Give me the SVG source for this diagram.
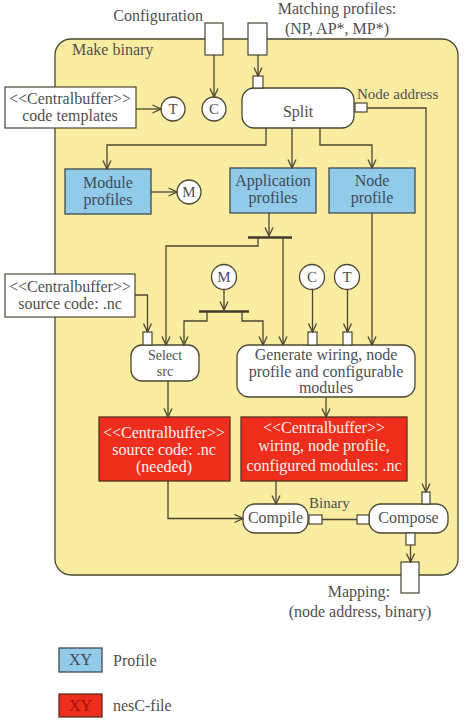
<svg xmlns="http://www.w3.org/2000/svg" width="465" height="721" viewBox="0 0 465 721" font-family="Liberation Serif, Times New Roman, serif">
<defs>
<marker id="a" viewBox="0 0 10 10" refX="9.5" refY="5" markerWidth="10" markerHeight="10" markerUnits="userSpaceOnUse" orient="auto">
<path d="M1,1 L9.5,5 L1,9" fill="none" stroke="#4a4633" stroke-width="1.3"/>
</marker>
<style>
text{font-family:'Liberation Serif','Times New Roman',serif;font-size:16px;fill:#4f4f4f}
.c{text-anchor:middle}
.ln{fill:none;stroke:#4a4633;stroke-width:1.3}
.ar{marker-end:url(#a)}
.bar{fill:none;stroke:#3f3c2c;stroke-width:2.6}
.pin{fill:#fff;stroke:#4a4633;stroke-width:1.2}
.act{fill:#fff;stroke:#4a4633;stroke-width:1.3}
.buf{fill:#fff;stroke:#4a4633;stroke-width:1.2}
.prof{fill:#92cbe9;stroke:#3f4a4f;stroke-width:1.3}
.nes{fill:#ee2d1c;stroke:#5a3020;stroke-width:1.3}
.wt{fill:#fff0ea}
.bt{fill:#3e4a55}
.sm{font-size:15px}
.xs{font-size:14px}
.circ{fill:#fff;stroke:#4a4633;stroke-width:1.3}
</style>
</defs>
<rect width="465" height="721" fill="#fff"/>

<g id="container">
<rect x="55" y="39" width="403" height="536" rx="16" fill="#faeda2" stroke="#4a4633" stroke-width="1.3"/>
<text x="72" y="55">Make binary</text>
</g>

<g id="config">
<rect class="pin" x="205" y="23" width="18" height="32"/>
<text x="203" y="21" text-anchor="end">Configuration</text>
</g>
<g id="matching">
<rect class="pin" x="248" y="23" width="19" height="32"/>
<text class="c" x="337" y="14">Matching profiles:</text>
<text class="c" x="337" y="34">(NP, AP*, MP*)</text>
</g>

<g id="templates">
<rect class="buf" x="5" y="87" width="131" height="41"/>
<text class="c" x="70" y="104">&lt;&lt;Centralbuffer&gt;&gt;</text>
<text class="c" x="70" y="121">code templates</text>
</g>
<g id="t1"><circle class="circ" cx="173" cy="109" r="12"/><text class="c sm" x="173" y="114">T</text></g>
<g id="c1"><circle class="circ" cx="214" cy="109" r="12"/><text class="c sm" x="214" y="114">C</text></g>

<g id="split">
<rect class="act" x="242" y="88" width="112" height="40" rx="12"/>
<rect class="pin" x="253" y="76" width="10" height="12"/>
<rect class="pin" x="355" y="103" width="12" height="9"/>
<text class="c" x="298" y="117">Split</text>
<text x="357" y="99" class="sm">Node address</text>
</g>

<g id="module">
<rect class="prof" x="65" y="169" width="86" height="45"/>
<text class="c bt" x="108" y="188">Module</text>
<text class="c bt" x="108" y="205">profiles</text>
</g>
<g id="m1"><circle class="circ" cx="189" cy="192" r="12"/><text class="c sm" x="189" y="197">M</text></g>

<g id="application">
<rect class="prof" x="230" y="168" width="86" height="45"/>
<text class="c bt" x="273" y="186">Application</text>
<text class="c bt" x="273" y="203">profiles</text>
</g>

<g id="node">
<rect class="prof" x="329" y="168" width="86" height="45"/>
<text class="c bt" x="372" y="186">Node</text>
<text class="c bt" x="372" y="203">profile</text>
</g>

<g id="source">
<rect class="buf" x="5" y="274" width="130" height="43"/>
<text class="c" x="70" y="292">&lt;&lt;Centralbuffer&gt;&gt;</text>
<text class="c" x="70" y="309">source code: .nc</text>
</g>

<g id="m2"><circle class="circ" cx="224" cy="277" r="12.5"/><text class="c sm" x="224" y="282">M</text></g>
<g id="c2"><circle class="circ" cx="312" cy="277" r="12.5"/><text class="c sm" x="312" y="282">C</text></g>
<g id="t2"><circle class="circ" cx="347" cy="277" r="12.5"/><text class="c sm" x="347" y="282">T</text></g>

<g id="select">
<rect class="act" x="131" y="345" width="68" height="36" rx="11"/>
<rect class="pin" x="143" y="332" width="9" height="13"/>
<text class="c xs" x="165" y="359.5">Select</text>
<text class="c xs" x="165" y="375.5">src</text>
</g>

<g id="generate">
<rect class="act" x="237" y="345" width="178" height="52" rx="12"/>
<rect class="pin" x="308" y="332" width="9" height="13"/>
<rect class="pin" x="343" y="332" width="9" height="13"/>
<text class="c" x="326" y="360">Generate wiring, node</text>
<text class="c" x="326" y="377">profile and configurable</text>
<text class="c" x="326" y="393">modules</text>
</g>

<g id="needed">
<rect class="nes" x="99" y="417" width="131" height="64"/>
<text class="c wt" x="164" y="438">&lt;&lt;Centralbuffer&gt;&gt;</text>
<text class="c wt" x="164" y="455">source code: .nc</text>
<text class="c wt" x="164" y="472">(needed)</text>
</g>

<g id="wiring">
<rect class="nes" x="241" y="417" width="166" height="64"/>
<text class="c wt" x="324" y="433">&lt;&lt;Centralbuffer&gt;&gt;</text>
<text class="c wt" x="324" y="451">wiring, node profile,</text>
<text class="c wt" x="324" y="471">configured modules: .nc</text>
</g>

<g id="compile">
<rect class="act" x="243" y="504" width="65" height="29" rx="12"/>
<rect class="pin" x="309" y="515" width="13" height="9"/>
<text class="c" x="275.5" y="523">Compile</text>
<text x="309" y="508" class="sm">Binary</text>
</g>

<g id="compose">
<rect class="act" x="369" y="504" width="79" height="29" rx="12"/>
<rect class="pin" x="357" y="515" width="12" height="9"/>
<rect class="pin" x="422" y="492" width="8" height="12"/>
<rect class="pin" x="406" y="533" width="9" height="12"/>
<text class="c" x="408.5" y="523">Compose</text>
</g>

<g id="mapping">
<rect class="pin" x="401" y="562" width="18" height="31"/>
<text x="390" y="597" text-anchor="end">Mapping:</text>
<text class="c" x="360" y="617">(node address, binary)</text>
</g>

<g id="legend">
<rect class="prof" x="59" y="648" width="43" height="24"/>
<text class="c bt" x="80.5" y="665">XY</text>
<text x="113" y="666">Profile</text>
<rect class="nes" x="59" y="694" width="43" height="23"/>
<text class="c" x="80.5" y="711" style="fill:#a01008">XY</text>
<text x="113" y="711">nesC-file</text>
</g>

<g id="connectors">
<path class="ln ar" d="M214,55 V97"/>
<path class="ln ar" d="M258,55 V76"/>
<path class="ln ar" d="M136,109 H161"/>
<path class="ln ar" d="M266,128 V145 H107 V169"/>
<path class="ln ar" d="M292,128 V168"/>
<path class="ln ar" d="M320,128 V145 H372 V168"/>
<path class="ln ar" d="M151,192 H177"/>
<path class="ln ar" d="M269,213 V236"/>
<path class="bar" d="M248,237.5 H292"/>
<path class="ln ar" d="M258,238 V246 H166 V345"/>
<path class="ln ar" d="M283,238 V345"/>
<path class="ln ar" d="M372,213 V345"/>
<path class="ln ar" d="M367,108 H426 V492"/>
<path class="ln ar" d="M224,289.5 V310"/>
<path class="bar" d="M199,311.5 H249"/>
<path class="ln ar" d="M207,312 V321 H184 V345"/>
<path class="ln ar" d="M242,312 V321 H263 V345"/>
<path class="ln ar" d="M312.5,289.5 V332"/>
<path class="ln ar" d="M347.5,289.5 V332"/>
<path class="ln ar" d="M135,295 H147.5 V332"/>
<path class="ln ar" d="M168,381 V417"/>
<path class="ln ar" d="M326,397 V417"/>
<path class="ln ar" d="M276,481 V504"/>
<path class="ln ar" d="M168,481 V518.5 H243"/>
<path class="ln" d="M322,519.5 H357"/>
<path class="ln ar" d="M410.5,545 V562"/>
</g>
</svg>
